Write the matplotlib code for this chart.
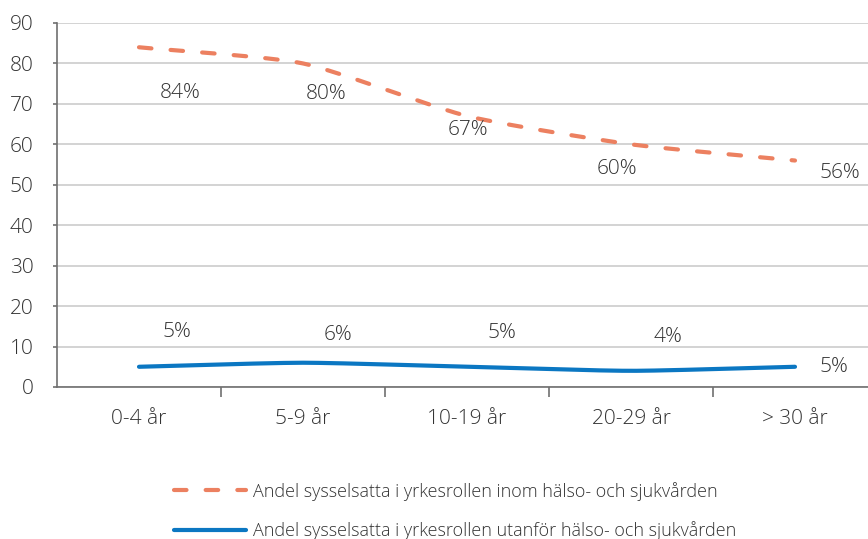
import matplotlib.pyplot as plt
import numpy as np
from matplotlib.lines import Line2D

plt.rcParams['font.family'] = ['Open Sans', 'DejaVu Sans']
plt.rcParams['font.weight'] = 'light'

kategorier = ['0-4 år', '5-9 år', '10-19 år', '20-29 år', '> 30 år']
inom = [84, 80, 67, 60, 56]
utanfor = [5, 6, 5, 4, 5]
namn_inom = 'Andel sysselsatta i yrkesrollen inom hälso- och sjukvården'
namn_utanfor = 'Andel sysselsatta i yrkesrollen utanför hälso- och sjukvården'

# etikettförskjutning i punkter (dx, dy)
offs_inom = [(30, -33), (17, -22), (1, -10), (-10, -18), (32, -9)]
offs_utanfor = [(27, 25), (25, 20), (25, 24), (27, 24), (28, 0)]

ORANGE = '#EC8060'
BLA = '#0B77C2'
TEXT = '#333333'


def utjamna(x, y, n=40, spann=0.6):
    # Hermite-kurva genom punkterna (som Excels utjämnade linje)
    x = np.asarray(x, float)
    y = np.asarray(y, float)
    p = np.column_stack([x, y])
    q = np.vstack([2 * p[0] - p[1], p, 2 * p[-1] - p[-2]])
    m = spann * 0.5 * (q[2:] - q[:-2])
    t = np.linspace(0, 1, n)[:, None]
    h00 = 2 * t**3 - 3 * t**2 + 1
    h10 = t**3 - 2 * t**2 + t
    h01 = -2 * t**3 + 3 * t**2
    h11 = t**3 - t**2
    ut = []
    for i in range(len(p) - 1):
        seg = h00 * p[i] + h10 * m[i] + h01 * p[i + 1] + h11 * m[i + 1]
        ut.append(seg if i == 0 else seg[1:])
    ut = np.vstack(ut)
    return ut[:, 0], ut[:, 1]


fig = plt.figure(figsize=(8.68, 5.39), dpi=100)
ax = fig.add_axes([57 / 868, 1 - 387 / 539, 820 / 868, 364 / 539])

x = np.arange(len(kategorier))

xs, ys = utjamna(x, inom)
l1, = ax.plot(xs, ys, color=ORANGE, lw=3, dash_capstyle='round', zorder=3)
l1.set_dashes((3.0, 4.6))
xs, ys = utjamna(x, utanfor)
ax.plot(xs, ys, color=BLA, lw=3, solid_capstyle='round', zorder=3)

for xi, v, o in zip(x, inom, offs_inom):
    ax.annotate(f'{v}%', (xi, v), xytext=o, textcoords='offset points',
                ha='center', va='center', fontsize=15, color=TEXT)
for xi, v, o in zip(x, utanfor, offs_utanfor):
    ax.annotate(f'{v}%', (xi, v), xytext=o, textcoords='offset points',
                ha='center', va='center', fontsize=15, color=TEXT)

ax.set_xlim(-0.5, len(kategorier) - 0.5)
ax.set_ylim(0, 90)
ax.set_yticks(range(0, 91, 10))
ax.yaxis.grid(True, color='#d0d0d0', lw=1.3)
ax.set_axisbelow(True)

ax.set_xticks(x)
ax.set_xticklabels(kategorier)
ax.set_xticks(np.arange(0.5, len(kategorier) - 0.5), minor=True)
ax.tick_params(axis='x', which='major', length=0, pad=16, labelsize=15, labelcolor=TEXT)
ax.tick_params(axis='x', which='minor', length=7, width=1.2, color='#707070')
ax.tick_params(axis='y', length=3, width=1.2, color='#707070', pad=14,
               labelsize=15, labelcolor=TEXT)

for s in ['top', 'right']:
    ax.spines[s].set_visible(False)
for s in ['left', 'bottom']:
    ax.spines[s].set_color('#707070')
    ax.spines[s].set_linewidth(1.2)

h1 = Line2D([], [], color=ORANGE, lw=3, dash_capstyle='round', dashes=(3.0, 4.6))
h2 = Line2D([], [], color=BLA, lw=3, solid_capstyle='round')
fig.legend([h1, h2], [namn_inom, namn_utanfor], loc='center',
           bbox_to_anchor=(455 / 868, 1 - 511 / 539), ncol=1, frameon=False,
           fontsize=13, handlelength=4.0, handletextpad=0.35, labelspacing=1.15,
           labelcolor=TEXT)

fig.savefig('out.png', dpi=100)
